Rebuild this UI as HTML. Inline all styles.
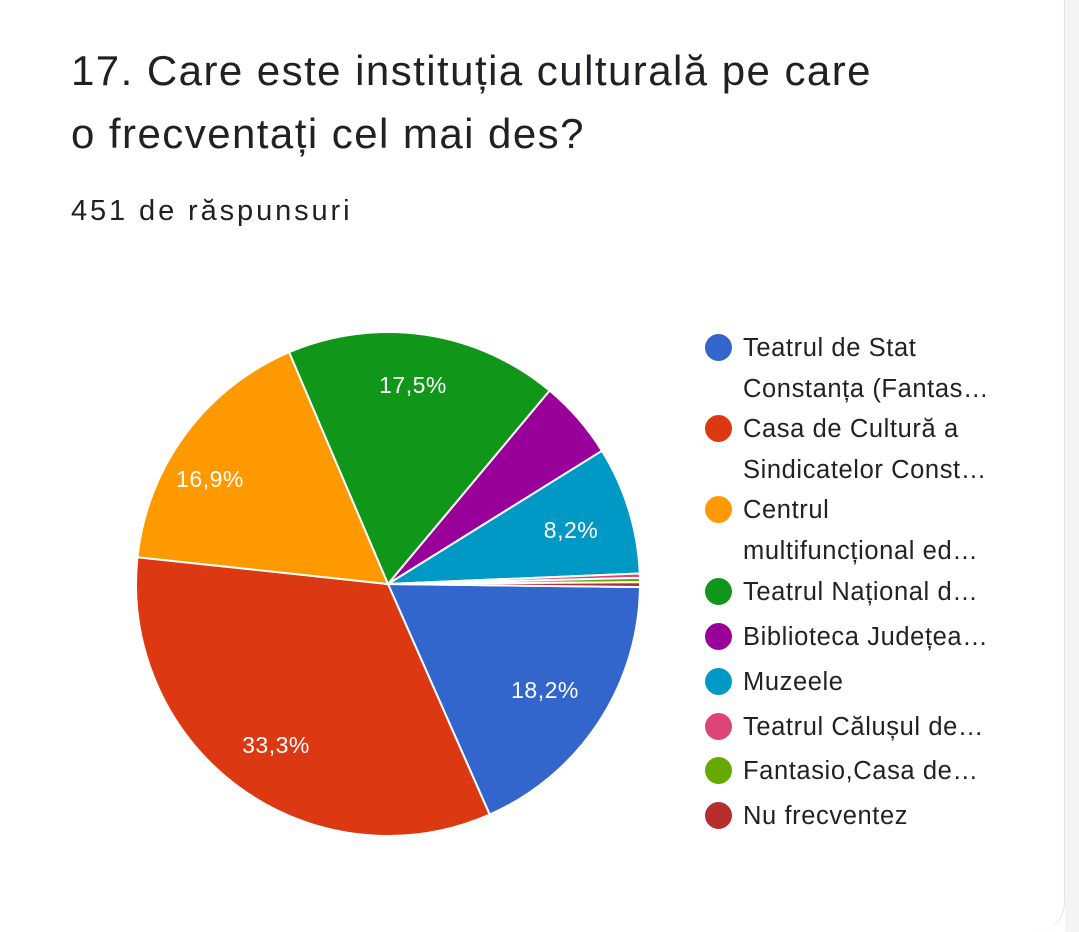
<!DOCTYPE html>
<html><head><meta charset="utf-8"><style>
body{margin:0;width:1079px;height:932px;background:#fff;overflow:hidden;font-family:"Liberation Sans",Roboto,sans-serif;color:#202124}
.t{position:absolute;left:71px;font-size:42px;letter-spacing:1.45px;line-height:63px;top:39px;color:#202124}
.s{position:absolute;left:71px;top:195px;font-size:29px;letter-spacing:2.9px;color:#202124}
.l{position:absolute;left:743px;font-size:25.5px;letter-spacing:0.6px;color:#222;white-space:nowrap}
.d{position:absolute;left:705px;width:27px;height:27px;border-radius:50%}
.edge{position:absolute;right:0;top:0;width:14px;height:932px;background:#f3f5f3}
.card{position:absolute;right:14px;top:0;width:60px;height:932px;background:#fff;border-right:1px solid #e0e4e0;border-bottom-right-radius:30px}
</style></head><body>
<div class="edge"></div><div class="card"></div>
<div class="t">17. Care este instituția culturală pe care<br>o frecventați cel mai des?</div>
<div class="s">451 de răspunsuri</div>
<svg id="p" width="1079" height="932" style="position:absolute;left:0;top:0"></svg>
<div id="lg"></div>
<script>
var cx=388,cy=584,r=252;
var sl=[[0.7,66.2,'#3366cc'],[66.2,186.1,'#dc3912'],[186.1,246.9,'#ff9900'],[246.9,309.9,'#109618'],[309.9,328.1,'#990099'],[328.1,357.6,'#0099c6'],[357.6,358.6,'#dd4477'],[358.6,359.6,'#66aa00'],[359.6,360.7,'#b82e2e']];
var s='';
function pt(a){a=a*Math.PI/180;return (cx+r*Math.cos(a)).toFixed(2)+','+(cy+r*Math.sin(a)).toFixed(2);}
sl.forEach(function(x){var big=(x[1]-x[0])>180?1:0;s+='<path d="M'+cx+','+cy+' L'+pt(x[0])+' A'+r+','+r+' 0 '+big+' 1 '+pt(x[1])+' Z" fill="'+x[2]+'" stroke="#fff" stroke-width="2"/>';});
var lb=[[545,689,'18,2%'],[276,744,'33,3%'],[210,478,'16,9%'],[413,384,'17,5%'],[571,529,'8,2%']];
lb.forEach(function(x){s+='<text x="'+x[0]+'" y="'+(x[1]+9)+'" fill="#fff" font-size="23" letter-spacing="0.5" text-anchor="middle" font-family="Liberation Sans, sans-serif">'+x[2]+'</text>';});
document.getElementById('p').innerHTML=s;
var L=[['#3366cc',347,['Teatrul de Stat','Constanța (Fantas…']],['#dc3912',428,['Casa de Cultură a','Sindicatelor Const…']],['#ff9900',509,['Centrul','multifuncțional ed…']],['#109618',591,['Teatrul Național d…']],['#990099',636,['Biblioteca Județea…']],['#0099c6',681,['Muzeele']],['#dd4477',726,['Teatrul Călușul de…']],['#66aa00',770,['Fantasio,Casa de…']],['#b82e2e',815,['Nu frecventez']]];
var h='';
L.forEach(function(x){h+='<div class="d" style="top:'+(x[1]-13)+'px;background:'+x[0]+'"></div>';x[2].forEach(function(t,i){h+='<div class="l" style="top:'+(x[1]-13+i*40.5)+'px">'+t+'</div>';});});
document.getElementById('lg').innerHTML=h;
</script>
</body></html>
